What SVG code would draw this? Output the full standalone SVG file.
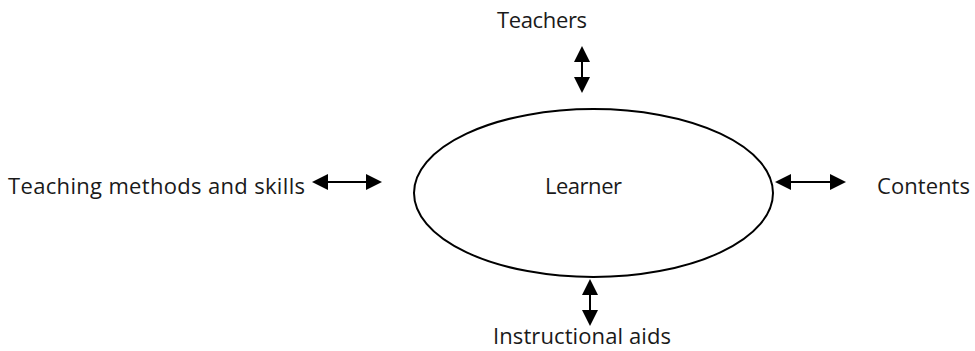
<svg xmlns="http://www.w3.org/2000/svg" width="975" height="351" viewBox="0 0 975 351">
  <defs>
    <style>
      .lbl { font-family: "Open Sans", "Liberation Sans", sans-serif; font-size: 22px; fill: #1a1a1a; text-anchor: middle; }
      .link { stroke: #000; stroke-width: 2; fill: none; marker-start: url(#head); marker-end: url(#head); }
      .hub { fill: #fff; stroke: #000; stroke-width: 2; }
    </style>
    <!-- solid triangular arrowhead, tip 14 units past the line end -->
    <marker id="head" viewBox="0 0 16 16" refX="2" refY="8" markerWidth="16" markerHeight="16" markerUnits="userSpaceOnUse" orient="auto-start-reverse">
      <path d="M0,0 L16,8 L0,16 z" fill="#000"/>
    </marker>
  </defs>

  <rect width="975" height="351" fill="#fff"/>

  <g id="connectors">
    <line class="link" x1="326" y1="182" x2="368" y2="182"/>
    <line class="link" x1="789" y1="182" x2="832" y2="182"/>
    <line class="link" x1="582" y1="60" x2="582" y2="79"/>
    <line class="link" x1="590" y1="293" x2="590" y2="312"/>
  </g>

  <g id="learner">
    <ellipse class="hub" cx="593.5" cy="193" rx="179.5" ry="84"/>
    <text class="lbl" x="583.5" y="194" textLength="77" lengthAdjust="spacing">Learner</text>
  </g>

  <g id="teachers">
    <text class="lbl" x="542" y="28" textLength="90" lengthAdjust="spacing">Teachers</text>
  </g>

  <g id="methods">
    <text class="lbl" x="156.5" y="194" textLength="297" lengthAdjust="spacing">Teaching methods and skills</text>
  </g>

  <g id="contents">
    <text class="lbl" x="923.5" y="194" textLength="93" lengthAdjust="spacing">Contents</text>
  </g>

  <g id="aids">
    <text class="lbl" x="582" y="344" textLength="178" lengthAdjust="spacing">Instructional aids</text>
  </g>
</svg>
